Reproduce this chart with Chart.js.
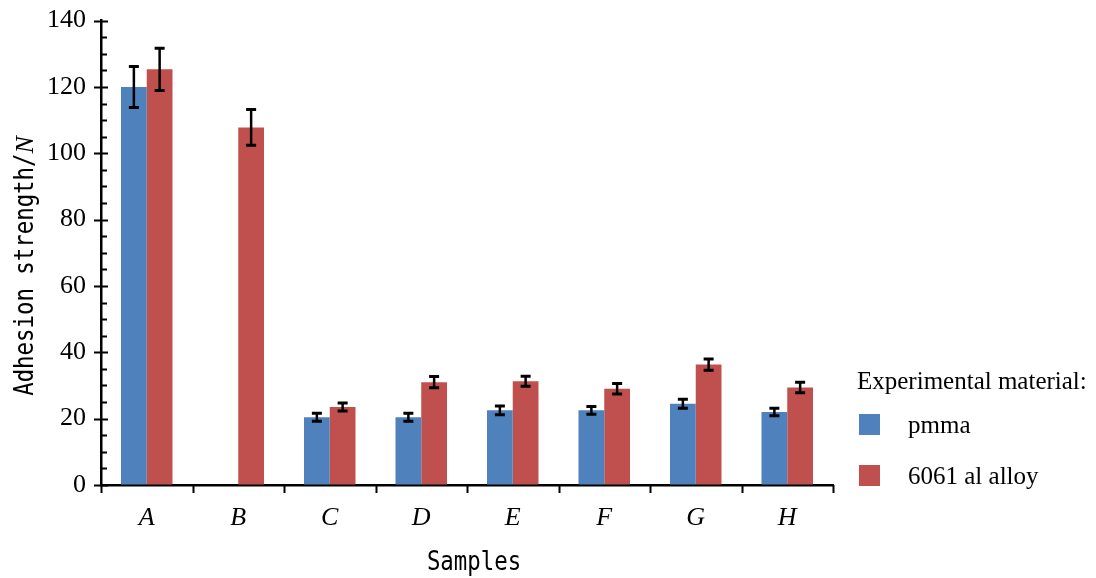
<!DOCTYPE html>
<html>
<head>
<meta charset="utf-8">
<script src="https://cdn.jsdelivr.net/npm/chart.js@4.4.0/dist/chart.umd.min.js"></script>
<style>
  html, body { margin: 0; padding: 0; background: #fff; }
</style>
</head>
<body>
<canvas id="chart" width="1096" height="578"></canvas>
<script>
const samples = ["A", "B", "C", "D", "E", "F", "G", "H"];
const pmma = [120.0, null, 20.4, 20.4, 22.5, 22.5, 24.5, 22.0];
const pmmaErr = [6.2, null, 1.2, 1.2, 1.35, 1.15, 1.35, 1.15];
const alloy = [125.3, 107.8, 23.5, 31.0, 31.3, 29.0, 36.3, 29.4];
const alloyErr = [6.4, 5.4, 1.2, 1.7, 1.5, 1.6, 1.7, 1.6];
const yMax = 140;
const yStep = 20;
const yMinorStep = 5;

const serif = '"Liberation Serif", "Times New Roman", serif';
const mono = '"DejaVu Sans Mono", monospace';

// error bars drawn on top of each bar
const errorBars = {
  id: "errorBars",
  afterDatasetsDraw(chart) {
    const ctx = chart.ctx;
    const y = chart.scales.y;
    ctx.save();
    ctx.strokeStyle = "#000";
    chart.data.datasets.forEach((ds, i) => {
      const meta = chart.getDatasetMeta(i);
      meta.data.forEach((bar, j) => {
        const v = ds.data[j];
        const e = ds.errors[j];
        if (v == null || e == null) return;
        const top = y.getPixelForValue(v + e);
        const bot = y.getPixelForValue(v - e);
        ctx.lineWidth = 2.5;
        ctx.beginPath();
        ctx.moveTo(bar.x, top);
        ctx.lineTo(bar.x, bot);
        ctx.stroke();
        ctx.lineWidth = 3;
        ctx.beginPath();
        ctx.moveTo(bar.x - 5, top);
        ctx.lineTo(bar.x + 5, top);
        ctx.moveTo(bar.x - 5, bot);
        ctx.lineTo(bar.x + 5, bot);
        ctx.stroke();
      });
    });
    ctx.restore();
  }
};

// narrow monospace text, like the original's half-width font
function narrowText(ctx, text, x, y) {
  ctx.save();
  ctx.translate(x, y);
  ctx.scale(0.86, 1);
  ctx.fillText(text, 0, 0);
  ctx.restore();
}

// tick marks, axis titles and legend
const decorations = {
  id: "decorations",
  afterDraw(chart) {
    const ctx = chart.ctx;
    const { left, right, bottom } = chart.chartArea;
    const y = chart.scales.y;
    ctx.save();
    ctx.strokeStyle = "#000";
    ctx.lineWidth = 2;
    ctx.beginPath();
    for (let v = 0; v <= yMax; v += yMinorStep) {
      const py = Math.round(y.getPixelForValue(v)) + 0.5;
      if (v % yStep === 0) {
        ctx.moveTo(left - 7, py);
        ctx.lineTo(left + 7, py);
      } else {
        ctx.moveTo(left, py);
        ctx.lineTo(left + 6, py);
      }
    }
    const n = samples.length;
    const w = (right - left) / n;
    for (let k = 0; k <= n; k++) {
      const px = Math.round(left + k * w) + 0.5;
      ctx.moveTo(px, bottom);
      ctx.lineTo(px, bottom + 8);
    }
    ctx.stroke();

    ctx.fillStyle = "#000";
    ctx.textBaseline = "alphabetic";
    ctx.textAlign = "left";

    // y title
    const t1 = "Adhesion strength/";
    ctx.font = "26px " + mono;
    const w1 = ctx.measureText(t1).width * 0.86;
    ctx.font = "italic 26px " + serif;
    const w2 = ctx.measureText("N").width;
    ctx.save();
    ctx.translate(33, 266);
    ctx.rotate(-Math.PI / 2);
    const start = -(w1 + w2) / 2;
    ctx.font = "26px " + mono;
    narrowText(ctx, t1, start, 0);
    ctx.font = "italic 26px " + serif;
    ctx.fillText("N", start + w1, 0);
    ctx.restore();

    // x title
    ctx.font = "26px " + mono;
    const ws = ctx.measureText("Samples").width * 0.86;
    narrowText(ctx, "Samples", 474 - ws / 2, 570);

    // legend
    ctx.textBaseline = "middle";
    ctx.font = "25px " + serif;
    ctx.fillText("Experimental material:", 857, 382);
    chart.data.datasets.forEach((ds, i) => {
      ctx.fillStyle = ds.backgroundColor;
      ctx.fillRect(859, 414 + i * 51, 21, 21);
      ctx.fillStyle = "#000";
      ctx.fillText(ds.label, 908, 426 + i * 51);
    });
    ctx.restore();
  }
};

new Chart(document.getElementById("chart"), {
  type: "bar",
  data: {
    labels: samples,
    datasets: [
      {
        label: "pmma",
        data: pmma,
        errors: pmmaErr,
        backgroundColor: "#4F81BD",
        categoryPercentage: 0.563,
        barPercentage: 1.0,
      },
      {
        label: "6061 al alloy",
        data: alloy,
        errors: alloyErr,
        backgroundColor: "#C0504D",
        categoryPercentage: 0.563,
        barPercentage: 1.0,
      },
    ],
  },
  options: {
    responsive: false,
    animation: false,
    layout: { padding: { top: 0, right: 263, left: 0, bottom: 0 } },
    plugins: { legend: { display: false }, tooltip: { enabled: false } },
    scales: {
      x: {
        grid: { display: false, drawTicks: false },
        border: { display: true, color: "#000", width: 2.5 },
        ticks: {
          color: "#000",
          padding: 18,
          font: { family: serif, size: 26, style: "italic" },
        },
        afterFit: (s) => { s.height = 93; },
      },
      y: {
        min: 0,
        max: yMax,
        grid: {
          display: true,
          drawOnChartArea: false,
          drawTicks: true,
          tickLength: 10,
          color: "rgba(0,0,0,0)",
        },
        border: { display: true, color: "#000", width: 2.5 },
        ticks: {
          stepSize: yStep,
          color: "#000",
          padding: 5,
          font: { family: serif, size: 26 },
        },
        afterFit: (s) => { s.width = 101; },
      },
    },
  },
  plugins: [errorBars, decorations],
});
</script>
</body>
</html>
